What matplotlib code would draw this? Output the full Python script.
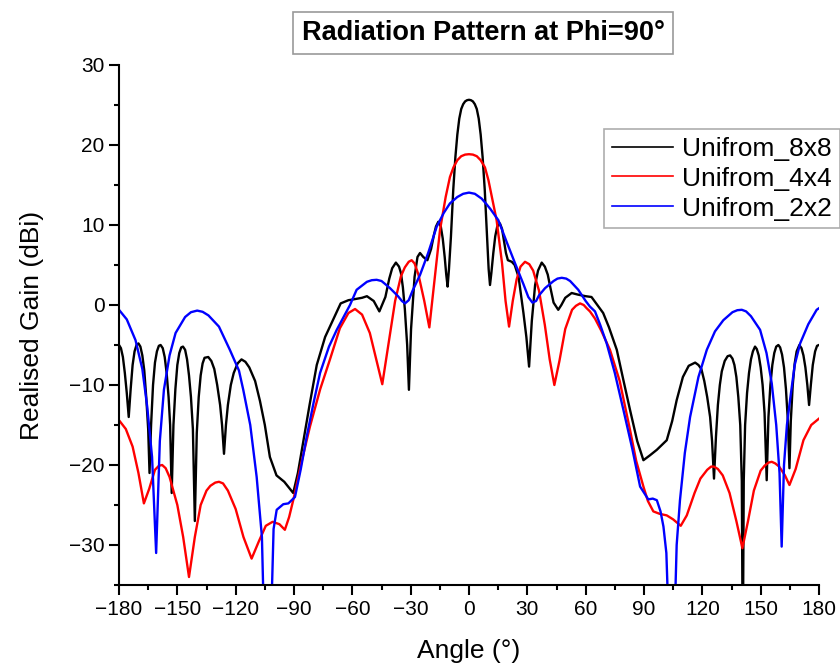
import numpy as np
import matplotlib
matplotlib.use('Agg')
import matplotlib.pyplot as plt
from matplotlib.ticker import MultipleLocator

plt.rcParams['font.family'] = ['Liberation Sans', 'DejaVu Sans']

# values (angle in degrees, realised gain in dBi)
angle_8x8 = [-180, -179, -178, -177, -176, -175, -174, -173, -172, -171,
             -170, -169, -168, -167, -166, -165, -164.3, -163.5, -162.5, -161.5,
             -160.5, -159.5, -158.6, -157.5, -156.5, -155.5, -154.5, -153.7, -152.9, -152,
             -151, -150, -149, -148, -147.1, -146, -145, -144, -143, -142,
             -141, -140, -139, -138, -137, -136, -134.1, -132.5, -131, -129.5,
             -128, -127, -126, -125, -124, -122.5, -121, -119, -117, -115,
             -113, -110, -107.5, -105, -102.4, -99, -95, -90.4, -88, -85.2,
             -82, -78.3, -74, -70, -66, -62, -59.5, -55, -52.5, -49,
             -46.1, -43, -41, -39.5, -37.6, -36, -35, -34, -33, -31.8,
             -30.9, -29.8, -28, -26.5, -25.2, -23.5, -21.4, -19.5, -18, -17,
             -15.8, -14.5, -13.5, -12.5, -11.7, -11, -10.3, -9.3, -8.1, -7,
             -6, -5, -4, -3, -2, -1, 0, 1, 2, 3,
             4, 5, 6, 7, 8.1, 9.3, 10.1, 10.8, 11.5, 12.5,
             13.5, 14.5, 15.9, 17, 18, 19, 20, 22, 23.5, 25.5,
             28, 29.5, 30.9, 32.3, 34, 35.5, 37.4, 39, 40.5, 42,
             43.5, 45.9, 47.5, 49.5, 52.8, 56, 60, 63, 66, 69,
             72, 76, 79.5, 82.8, 86.5, 89.7, 93, 96.6, 101.7, 104.5,
             106.8, 110, 113, 116.3, 118, 119.5, 121, 122.5, 124, 125,
             126, 127, 128, 129, 130, 131.5, 133, 134.3, 135.5, 136.5,
             137.5, 138.5, 139.5, 140.3, 140.8, 141.3, 142, 143, 144, 145,
             146, 147.1, 148, 149, 150, 151, 152, 153.1, 154, 155,
             156, 157, 158, 159.1, 160, 161, 162, 163, 164, 164.8,
             165.5, 166.5, 167.5, 168.5, 169.9, 171, 172, 173, 174, 174.9,
             175.8, 176.8, 178, 179, 180]
gain_8x8 = [-5.0, -5.4, -6.5, -8.5, -11, -14, -10.5, -7.5, -5.8, -5.0,
            -4.8, -5.2, -6.3, -8.2, -11.5, -15.5, -21, -15, -10, -7.2,
            -5.8, -5.1, -5.0, -5.4, -6.5, -8.5, -11.5, -15, -23.5, -15,
            -10.5, -7.5, -6, -5.3, -5.2, -5.6, -6.8, -8.8, -11.5, -15.5,
            -27, -16, -11.5, -8.8, -7.3, -6.6, -6.5, -7, -8, -10,
            -12.5, -15, -18.6, -15, -12.5, -10, -8.5, -7.3, -6.8, -7.1,
            -7.8, -9.5, -12, -15, -19, -21.3, -22.1, -23.5, -21, -17,
            -12.5, -7.5, -4, -1.9, 0.2, 0.6, 0.7, 0.9, 1.1, 0.5,
            -0.8, 1, 3.3, 4.6, 5.3, 4.8, 4, 2.2, -0.5, -5,
            -10.6, -3, 3.5, 6, 6.5, 6.0, 5.6, 7.0, 8.8, 9.8,
            10.4, 9.8, 8.3, 6, 3.8, 2.3, 4.5, 8.5, 14.4, 18.5,
            21.3, 23.3, 24.5, 25.1, 25.45, 25.6, 25.65, 25.6, 25.45, 25.1,
            24.5, 23.3, 21.3, 18.5, 14.4, 8.5, 4.5, 2.5, 4, 6.5,
            8.6, 9.8, 10.2, 9.5, 8, 6.5, 5.6, 5.4, 5, 3.5,
            -1, -4, -7.7, -2, 2.5, 4.3, 5.3, 4.8, 3.8, 2,
            0.3, -0.6, 0, 0.9, 1.5, 1.3, 1.1, 1.0, 0, -1,
            -2.8, -5.6, -9.5, -13.1, -17, -19.4, -18.8, -18.1, -16.9, -14.5,
            -11.9, -9, -7.6, -7.2, -7.5, -8, -9.5, -11.5, -14, -17,
            -21.7, -16.5, -12.5, -10, -8.3, -7, -6.4, -6.3, -6.7, -7.5,
            -9, -11.5, -15, -22, -45, -22, -15, -11, -8.5, -6.8,
            -5.8, -5.2, -5.5, -6.3, -7.8, -10, -13.5, -21.9, -14, -10,
            -7.5, -6, -5.2, -5.0, -5.3, -6.2, -7.8, -10.5, -14.5, -20.4,
            -14.5, -10, -7.3, -5.8, -5.0, -5.4, -6.3, -7.8, -10, -12.5,
            -10, -7.5, -5.8, -5.1, -5.0]

angle_4x4 = [-180, -176.5, -173, -170, -167.2, -164.5, -161.5, -159.5, -157.8, -156,
             -154, -150, -147, -144, -141, -138, -135, -133, -130.5, -128.6,
             -126.5, -124, -120, -116, -111.8, -108, -104.5, -101, -97.5, -94.7,
             -92.5, -90, -86, -81.8, -76.5, -71.5, -66.4, -62, -58.6, -55,
             -51, -48, -44.6, -41.5, -38, -35, -33, -31, -29.5, -28,
             -26, -23, -20.4, -18, -14.9, -12, -9.8, -8, -6, -4,
             -2, 0, 2, 4, 6, 8.2, 10, 11.5, 14.2, 17,
             18.8, 20.6, 22.5, 24.5, 26.5, 28.8, 31, 33, 36, 39,
             41.5, 43.9, 46.5, 49.5, 53, 55, 57.1, 59, 60.5, 62.2,
             64.8, 68, 72.5, 77.5, 82.8, 86, 89.7, 92, 94.8, 98,
             101.7, 105, 108.9, 112, 116, 119, 122.5, 124.5, 126, 128,
             130.5, 134, 137.5, 140.6, 143.5, 146.5, 150, 152, 154, 155.7,
             157.5, 159.5, 162.5, 164.8, 168, 172, 176, 180]
gain_4x4 = [-14.4, -15.5, -17.7, -21, -24.8, -23, -20.6, -20.1, -20.0, -20.4,
            -21.5, -25, -29, -34, -29, -25, -23.2, -22.6, -22.2, -22.1,
            -22.3, -23.2, -25.5, -29, -31.7, -29.5, -27.6, -27.1, -27.4, -28.1,
            -26.5, -24, -19.5, -15.2, -10.5, -6.8, -2.9, -1.0, -0.5, -1.2,
            -3.5, -6.5, -9.9, -5, 0.5, 3.6, 4.7, 5.4, 5.6, 5.2,
            3.8, 0.5, -2.8, 2.5, 9.4, 13.5, 16, 17.2, 18.1, 18.6,
            18.8, 18.85, 18.8, 18.6, 18.1, 17.2, 15.6, 13.8, 10.6, 5.2,
            0.5, -2.7, 0.5, 3.2, 4.8, 5.4, 5.1, 4.3, 1.8, -2.5,
            -6.8, -10, -7, -3, -0.6, -0.1, 0.2, 0.0, -0.4, -0.8,
            -1.7, -3.2, -5.6, -9.5, -15.6, -19.5, -22.7, -24.5, -25.8, -26.1,
            -26.3, -26.8, -27.6, -26.3, -23.5, -21.7, -20.6, -20.2, -20.2, -20.5,
            -21.3, -23.5, -27, -30.4, -27, -23.2, -20.7, -20.1, -19.7, -19.6,
            -19.8, -20.2, -21.3, -22.5, -20.5, -16.9, -15, -14.2]

angle_2x2 = [-180, -176, -171.5, -168, -165.5, -163, -160.9, -159, -156.9, -154,
             -150.9, -146, -143, -139.8, -137, -134, -128.6, -123, -118.3, -116.1,
             -112.5, -109.2, -106.5, -104.9, -102.4, -100.5, -98.9, -95.5, -92.9, -89.5,
             -86.5, -83.5, -80, -76.6, -72, -68, -64.5, -61.2, -57.8, -52.5,
             -50, -47.5, -45, -43.5, -40.6, -36.5, -34.5, -32.9, -31, -29,
             -25.2, -21, -16.6, -13, -9.8, -6, -3, 0, 3, 6.5,
             9, 11, 15.1, 19.5, 23.7, 28, 30.5, 32.6, 34.5, 36,
             39.1, 43.5, 45.5, 47.7, 50, 52, 56.2, 60, 62.2, 64.8,
             67.5, 70.8, 75, 79.4, 84, 88, 92.2, 94.5, 96.6, 98.5,
             100, 101.5, 103.4, 105.1, 106.8, 108.5, 111, 113.7, 118, 122.3,
             126.5, 130.8, 135.5, 138, 140.3, 142.5, 145, 149.7, 153, 155.7,
             158, 159.7, 160.8, 162, 163.5, 165.1, 167.5, 170.3, 174.5, 178.8,
             180]
gain_2x2 = [-0.6, -1.8, -4.4, -8, -12.7, -19, -31, -17, -10.6, -6.3,
            -3.5, -1.5, -0.9, -0.7, -0.85, -1.3, -2.7, -5.6, -8.2, -10.6,
            -15, -21.5, -29, -45, -45, -28, -25.6, -24.9, -24.8, -24,
            -20.5, -16.5, -12.3, -8.5, -5.2, -3.1, -1.5, 0, 1.9, 2.9,
            3.1, 3.15, 3.0, 2.7, 2.1, 1.1, 0.5, 0.2, 0.6, 1.8,
            3.75, 6.5, 9.8, 11.5, 12.7, 13.5, 13.9, 14.05, 13.9, 13.3,
            12.6, 12, 10.6, 7.8, 5.2, 2.6, 1.0, 0.3, 0.5, 1.2,
            2.1, 3.0, 3.3, 3.4, 3.3, 3.0, 1.9, 0.5, -0.2, -0.8,
            -2.5, -4.8, -8.5, -13.1, -18, -22.7, -24.3, -24.2, -24.4, -25.8,
            -27.7, -31, -45, -45, -30, -24.4, -18.5, -14, -9, -5.6,
            -3.3, -1.9, -0.9, -0.65, -0.6, -0.8, -1.4, -3.1, -6, -9.8,
            -15, -21, -30.2, -20, -15, -11.9, -7.5, -4.8, -2.4, -0.6,
            -0.4]

series_labels = ['Unifrom_8x8', 'Unifrom_4x4', 'Unifrom_2x2']
series_colors = ['#000000', '#ff0000', '#0000ff']

fig = plt.figure(figsize=(8.4, 6.68), dpi=100)
ax = fig.add_axes([119 / 840, 83 / 668, 700 / 840, 520 / 668])

data = [(angle_8x8, gain_8x8), (angle_4x4, gain_4x4), (angle_2x2, gain_2x2)]
for (a, g), lab, col in zip(data, series_labels, series_colors):
    ax.plot(a, g, color=col, lw=1.7, label=lab, solid_joinstyle='round')

ax.set_xlim(-180, 180)
ax.set_ylim(-35, 30)
ax.xaxis.set_major_locator(MultipleLocator(30))
ax.xaxis.set_minor_locator(MultipleLocator(15))
ax.yaxis.set_major_locator(MultipleLocator(10))
ax.yaxis.set_minor_locator(MultipleLocator(5))

for side in ['top', 'right']:
    ax.spines[side].set_visible(False)
for side in ['left', 'bottom']:
    ax.spines[side].set_linewidth(1.5)

ax.tick_params(which='major', direction='out', length=7, width=1.5, labelsize=15)
ax.tick_params(which='minor', direction='out', length=3.5, width=1.5)

ax.set_xlabel('Angle (°)', fontsize=19, labelpad=15)
ax.set_ylabel('Realised Gain (dBi)', fontsize=19, labelpad=18)

leg = ax.legend(loc='upper left', bbox_to_anchor=(604 / 840, 1 - 129 / 668),
                bbox_transform=fig.transFigure, fontsize=19, frameon=True,
                fancybox=False, handlelength=2.3, handletextpad=0.35,
                borderpad=0.3, labelspacing=0.22, borderaxespad=0)
leg.get_frame().set_edgecolor('#999999')
leg.get_frame().set_linewidth(1.2)
for line in leg.get_lines():
    line.set_linewidth(1.2)

fig.text(483 / 840, 1 - 33 / 668, 'Radiation Pattern at Phi=90°', fontsize=19.5,
         fontweight='bold', ha='center', va='center',
         bbox=dict(boxstyle='square,pad=0.3', fc='white', ec='#999999', lw=1.2))

fig.savefig('out.png', dpi=100)
